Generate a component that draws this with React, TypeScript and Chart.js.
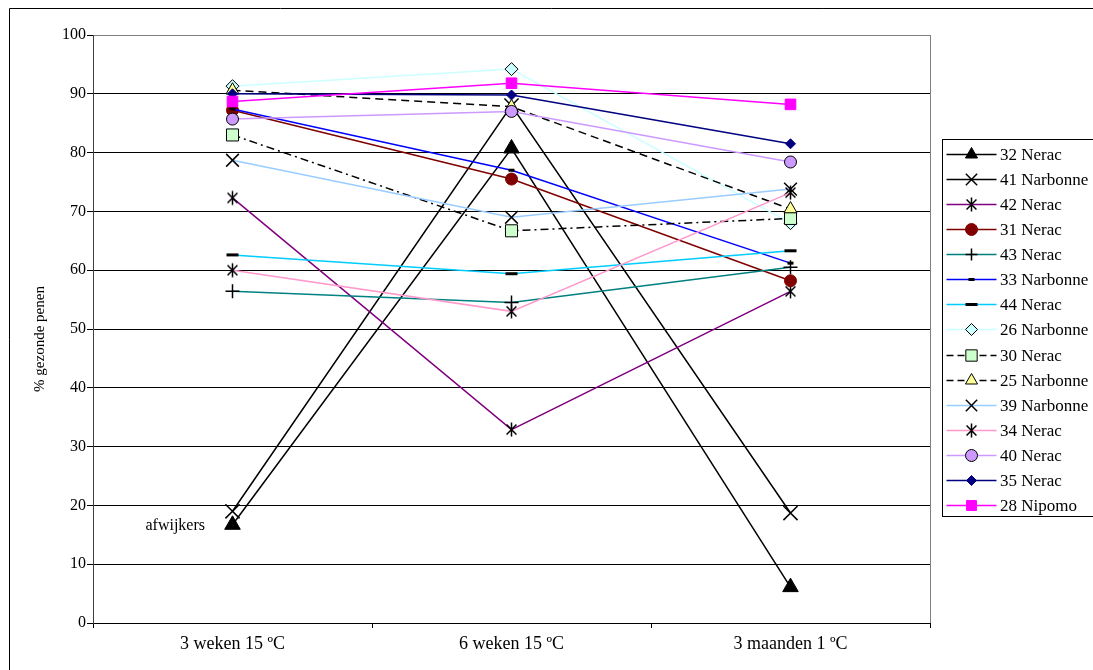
import React, { useEffect, useRef } from "react";
import { Chart, registerables } from "chart.js";

Chart.register(...registerables);

// ---- data ----
const categories = ["3 weken 15 ºC", "6 weken 15 ºC", "3 maanden 1 ºC"];
const seriesNames = [
  "32 Nerac", "41 Narbonne", "42 Nerac", "31 Nerac", "43 Nerac",
  "33 Narbonne", "44 Nerac", "26 Narbonne", "30 Nerac", "25 Narbonne",
  "39 Narbonne", "34 Nerac", "40 Nerac", "35 Nerac", "28 Nipomo",
];
const nerac32 = [16.7, 80.7, 6.1];
const narbonne41 = [19.0, 88.0, 18.7];
const nerac42 = [72.3, 32.9, 56.4];
const nerac31 = [87.2, 75.5, 58.2];
const nerac43 = [56.4, 54.5, 60.5];
const narbonne33 = [87.4, 77.0, 61.2];
const nerac44 = [62.6, 59.4, 63.3];
const narbonne26 = [91.3, 94.2, 68.0];
const nerac30 = [83.0, 66.7, 68.8];
const narbonne25 = [90.6, 87.8, 70.4];
const narbonne39 = [78.7, 69.0, 73.8];
const nerac34 = [60.0, 53.0, 73.2];
const nerac40 = [85.7, 87.0, 78.4];
const nerac35 = [90.0, 89.8, 81.5];
const nipomo28 = [88.7, 91.8, 88.2];
const seriesValues = [
  nerac32, narbonne41, nerac42, nerac31, nerac43, narbonne33, nerac44,
  narbonne26, nerac30, narbonne25, narbonne39, nerac34, nerac40, nerac35, nipomo28,
];
const yTicks = [0, 10, 20, 30, 40, 50, 60, 70, 80, 90, 100];

// ---- styles ----
type Sty = {
  line: string; dash: number[]; marker: string; r: number; lr: number;
  fill: string; stroke: string; bw: number;
};
const styles: Sty[] = [
  { line: "#000000", dash: [], marker: "triangle", r: 9, lr: 7, fill: "#000000", stroke: "#000000", bw: 1 },
  { line: "#000000", dash: [], marker: "crossRot", r: 10, lr: 8, fill: "#000000", stroke: "#000000", bw: 1.5 },
  { line: "#800080", dash: [], marker: "asterisk", r: 7, lr: 7, fill: "#000000", stroke: "#000000", bw: 1.5 },
  { line: "#800000", dash: [], marker: "circle", r: 6, lr: 6, fill: "#800000", stroke: "#800000", bw: 1 },
  { line: "#008080", dash: [], marker: "cross", r: 7, lr: 6, fill: "#000000", stroke: "#000000", bw: 1.5 },
  { line: "#0000FF", dash: [], marker: "line", r: 3, lr: 3, fill: "#000000", stroke: "#000000", bw: 3 },
  { line: "#00CCFF", dash: [], marker: "line", r: 6, lr: 6, fill: "#000000", stroke: "#000000", bw: 3 },
  { line: "#CCFFFF", dash: [], marker: "rectRot", r: 6.5, lr: 6, fill: "#CCFFFF", stroke: "#000000", bw: 1 },
  { line: "#000000", dash: [8, 4, 2, 4], marker: "rect", r: 8.5, lr: 8, fill: "#CCFFCC", stroke: "#000000", bw: 1 },
  { line: "#000000", dash: [8, 5], marker: "triangle", r: 7.5, lr: 7, fill: "#FFFF99", stroke: "#000000", bw: 1 },
  { line: "#99CCFF", dash: [], marker: "crossRot", r: 9, lr: 8, fill: "#000000", stroke: "#000000", bw: 1.5 },
  { line: "#FF99CC", dash: [], marker: "asterisk", r: 7, lr: 7, fill: "#000000", stroke: "#000000", bw: 1.5 },
  { line: "#CC99FF", dash: [], marker: "circle", r: 6, lr: 6, fill: "#CC99FF", stroke: "#000000", bw: 1 },
  { line: "#000080", dash: [], marker: "rectRot", r: 5, lr: 5, fill: "#000080", stroke: "#000080", bw: 1 },
  { line: "#FF00FF", dash: [], marker: "rect", r: 7.5, lr: 7, fill: "#FF00FF", stroke: "#FF00FF", bw: 1 },
];

const SERIF = "'Liberation Serif', 'Times New Roman', serif";

function drawMarker(ctx: CanvasRenderingContext2D, s: Sty, x: number, y: number, r: number) {
  ctx.save();
  ctx.setLineDash([]);
  ctx.lineWidth = s.bw;
  ctx.strokeStyle = s.stroke;
  ctx.fillStyle = s.fill;
  ctx.beginPath();
  const d = r * Math.SQRT1_2;
  switch (s.marker) {
    case "triangle":
      ctx.moveTo(x, y - r);
      ctx.lineTo(x + r * 0.866, y + r / 2);
      ctx.lineTo(x - r * 0.866, y + r / 2);
      ctx.closePath();
      ctx.fill();
      ctx.stroke();
      break;
    case "crossRot":
      ctx.moveTo(x - d, y - d); ctx.lineTo(x + d, y + d);
      ctx.moveTo(x + d, y - d); ctx.lineTo(x - d, y + d);
      ctx.stroke();
      break;
    case "asterisk":
      ctx.moveTo(x - d, y - d); ctx.lineTo(x + d, y + d);
      ctx.moveTo(x + d, y - d); ctx.lineTo(x - d, y + d);
      ctx.moveTo(x, y - r); ctx.lineTo(x, y + r);
      ctx.stroke();
      break;
    case "circle":
      ctx.arc(x, y, r, 0, Math.PI * 2);
      ctx.fill();
      ctx.stroke();
      break;
    case "cross":
      ctx.moveTo(x - r, y); ctx.lineTo(x + r, y);
      ctx.moveTo(x, y - r); ctx.lineTo(x, y + r);
      ctx.stroke();
      break;
    case "line":
      ctx.moveTo(x - r, y); ctx.lineTo(x + r, y);
      ctx.stroke();
      break;
    case "rectRot":
      ctx.moveTo(x, y - r); ctx.lineTo(x + r, y); ctx.lineTo(x, y + r); ctx.lineTo(x - r, y);
      ctx.closePath();
      ctx.fill();
      ctx.stroke();
      break;
    case "rect":
      ctx.rect(x - d, y - d, 2 * d, 2 * d);
      ctx.fill();
      ctx.stroke();
      break;
  }
  ctx.restore();
}

function makeAsterisk(s: Sty): HTMLCanvasElement {
  const size = Math.ceil(s.r * 2 + 3) | 1; // odd size keeps centre on a pixel
  const c = document.createElement("canvas");
  c.width = size;
  c.height = size;
  const cx = c.getContext("2d")!;
  drawMarker(cx, s, size / 2, size / 2, s.r);
  return c;
}

const decorPlugin = {
  id: "decor",
  beforeDatasetsDraw(chart: any) {
    const { ctx, chartArea: a } = chart;
    ctx.save();
    ctx.strokeStyle = "#808080";
    ctx.lineWidth = 1;
    ctx.beginPath();
    ctx.moveTo(a.right + 0.5, a.top);
    ctx.lineTo(a.right + 0.5, a.bottom);
    ctx.stroke();
    ctx.restore();
  },
  afterDraw(chart: any) {
    const { ctx, width, height } = chart;
    ctx.save();
    // outer frame
    ctx.strokeStyle = "#000000";
    ctx.lineWidth = 1;
    ctx.setLineDash([]);
    ctx.beginPath();
    ctx.moveTo(1.5, height);
    ctx.lineTo(1.5, 0.5);
    ctx.lineTo(width, 0.5);
    ctx.stroke();

    // y axis title
    ctx.save();
    ctx.translate(32, 331);
    ctx.rotate(-Math.PI / 2);
    ctx.font = `15px ${SERIF}`;
    ctx.fillStyle = "#000";
    ctx.textAlign = "center";
    ctx.textBaseline = "middle";
    ctx.fillText("% gezonde penen", 0, 0);
    ctx.restore();

    // annotation
    ctx.font = `16px ${SERIF}`;
    ctx.fillStyle = "#000";
    ctx.textAlign = "right";
    ctx.textBaseline = "middle";
    ctx.fillText("afwijkers", 197, 518);

    // legend
    const lx = 934.5, ly = 131.5, lh = 377;
    ctx.strokeStyle = "#000";
    ctx.lineWidth = 1;
    ctx.strokeRect(lx, ly, 300, lh);
    ctx.font = `17px ${SERIF}`;
    ctx.textAlign = "left";
    ctx.textBaseline = "middle";
    for (let i = 0; i < seriesNames.length; i++) {
      const s = styles[i];
      const y = Math.round(146 + i * 25.07) + 0.5;
      ctx.save();
      ctx.strokeStyle = s.line;
      ctx.lineWidth = 1.5;
      ctx.setLineDash(s.dash.length ? [7, 4] : []);
      ctx.beginPath();
      ctx.moveTo(938.5, y);
      ctx.lineTo(988.5, y);
      ctx.stroke();
      ctx.restore();
      drawMarker(ctx, s, 963.5, y, s.lr);
      ctx.fillStyle = "#000";
      ctx.fillText(seriesNames[i], 992, y + 1);
    }
    ctx.restore();
  },
};

export default function App() {
  const ref = useRef<HTMLCanvasElement | null>(null);
  useEffect(() => {
    if (!ref.current) return;
    const datasets = seriesNames.map((name, i) => {
      const s = styles[i];
      const ps: any = s.marker === "asterisk" ? makeAsterisk(s) : s.marker;
      return {
        label: name,
        data: seriesValues[i],
        borderColor: s.line,
        borderWidth: 1.5,
        borderDash: s.dash,
        backgroundColor: s.fill,
        pointStyle: ps,
        pointRadius: s.r,
        pointHoverRadius: s.r,
        pointBackgroundColor: s.fill,
        pointBorderColor: s.stroke,
        pointBorderWidth: s.bw,
        fill: false,
        tension: 0,
        order: -i,
      };
    });
    const chart = new Chart(ref.current, {
      type: "line",
      data: { labels: categories, datasets },
      options: {
        responsive: false,
        animation: false,
        devicePixelRatio: 1,
        layout: { padding: { left: 0, top: 27, right: 163, bottom: 0 } },
        plugins: { legend: { display: false }, tooltip: { enabled: false } },
        scales: {
          x: {
            type: "category",
            offset: true,
            grid: {
              display: true,
              drawOnChartArea: false,
              drawTicks: true,
              tickLength: 5,
              offset: true,
              color: "#000",
            },
            border: { display: true, color: "#000", width: 1 },
            ticks: { color: "#000", font: { family: SERIF, size: 18 }, padding: 5, maxRotation: 0 },
            afterFit: (scale: any) => { scale.height = 47; },
          },
          y: {
            min: 0,
            max: 100,
            afterBuildTicks: (scale: any) => { scale.ticks = yTicks.map((v) => ({ value: v })); },
            grid: {
              color: (c: any) => (c.tick && c.tick.value === 100 ? "#808080" : "#000000"),
              tickColor: "#000",
              tickLength: 6,
              lineWidth: 1,
            },
            border: { display: true, color: "#404040", width: 1 },
            ticks: { color: "#000", font: { family: SERIF, size: 16 }, padding: 1 },
            afterFit: (scale: any) => { scale.width = 85; },
          },
        },
      },
      plugins: [decorPlugin],
    } as any);
    return () => chart.destroy();
  }, []);
  return (
    <div style={{ position: "absolute", left: 8, top: 8, width: 1085, height: 662, overflow: "hidden" }}>
      <canvas ref={ref} width={1085} height={662} style={{ display: "block" }} />
    </div>
  );
}
